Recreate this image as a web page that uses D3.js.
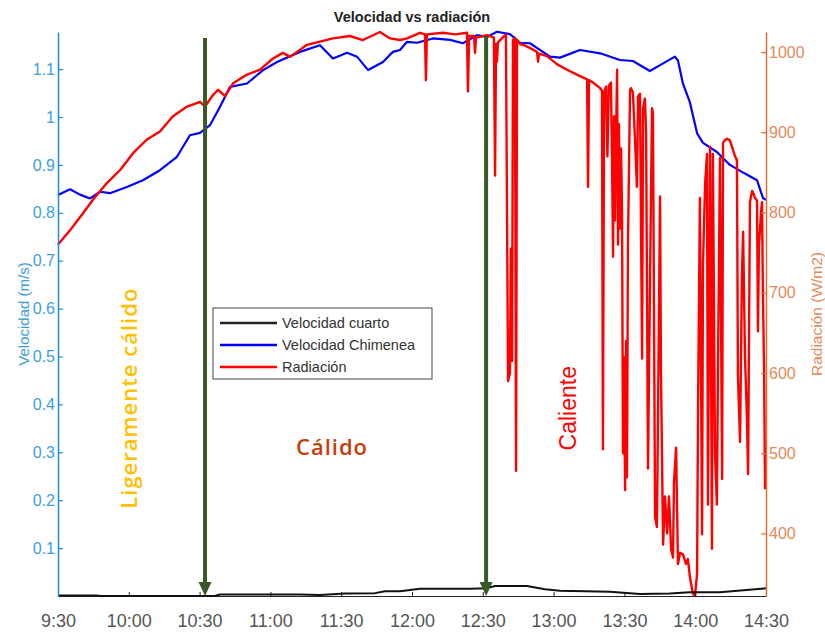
<!DOCTYPE html>
<html>
<head>
<meta charset="utf-8">
<script src="https://cdn.jsdelivr.net/npm/d3@7/dist/d3.min.js"></script>
<style>
  html, body { margin: 0; padding: 0; background: #fff; }
  svg { display: block; }
</style>
</head>
<body>
<svg id="chart" width="825" height="633"></svg>
<script>
// ---------- DATA (time = minutes after 9:30) ----------
const xTickValues = [0, 30, 60, 90, 120, 150, 180, 210, 240, 270, 300];
const xTickLabels = ["9:30", "10:00", "10:30", "11:00", "11:30", "12:00", "12:30", "13:00", "13:30", "14:00", "14:30"];
const leftTickValues = [0.1, 0.2, 0.3, 0.4, 0.5, 0.6, 0.7, 0.8, 0.9, 1, 1.1];
const rightTickValues = [400, 500, 600, 700, 800, 900, 1000];

const seriesNames = ["Velocidad cuarto", "Velocidad Chimenea", "Radiación"];

// Velocidad cuarto (m/s)
const cuartoT = [0, 16.5, 17.8, 66.5, 68.6, 102.5, 111.0, 121.6, 134.3, 138.6, 144.9, 153.4, 174.6, 181.4, 185.2, 198.7, 206.4, 212.7, 233.9, 246.6, 259.3, 267.8, 280.5, 300];
const cuartoV = [0.001, 0.001, 0, 0, 0.003, 0.003, 0.002, 0.005, 0.006, 0.010, 0.010, 0.015, 0.015, 0.016, 0.021, 0.021, 0.014, 0.011, 0.009, 0.004, 0.005, 0.008, 0.008, 0.016];

// Velocidad Chimenea (m/s)
const chimT = [0, 5.1, 9.3, 13.6, 17.8, 22.0, 29.2, 36.0, 43.2, 50.4, 55.9, 60.2, 64.4, 68.6, 72.9, 80.1, 86.9, 92.8, 102.5, 111.0, 116.5, 122.5, 126.7, 131.4, 137.7, 141.9, 144.9, 147.9, 152.1, 158.9, 166.1, 171.6, 177.5, 181.8, 186.0, 191.5, 195.8, 200.0, 204.2, 208.5, 212.7, 221.2, 229.7, 238.1, 243.6, 250.8, 256.4, 261.4, 262.7, 264.8, 267.8, 270.8, 273.3, 279.2, 284.7, 290.3, 296.2, 298.7, 300];
const chimV = [0.837, 0.849, 0.838, 0.830, 0.844, 0.841, 0.854, 0.868, 0.889, 0.917, 0.962, 0.967, 0.983, 1.021, 1.063, 1.070, 1.098, 1.115, 1.136, 1.150, 1.122, 1.134, 1.126, 1.098, 1.115, 1.136, 1.140, 1.157, 1.155, 1.164, 1.161, 1.154, 1.171, 1.167, 1.178, 1.173, 1.155, 1.154, 1.140, 1.126, 1.124, 1.140, 1.133, 1.119, 1.117, 1.096, 1.112, 1.126, 1.118, 1.070, 1.030, 0.966, 0.946, 0.927, 0.900, 0.884, 0.868, 0.831, 0.827];

// Radiación (W/m2)
const radT = [0, 5.1, 10.6, 14.8, 20.8, 26.3, 31.8, 37.7, 43.2, 48.7, 54.7, 60.2, 62.3, 65.3, 67.8, 70.8, 74.2, 80.1, 85.6, 91.1, 95.3, 98.3, 105.5, 111.0, 116.5, 123.7, 129.2, 136.4, 140.7, 144.9, 147.9, 153.4, 155.5, 155.9, 156.3, 163.1, 168.2, 173.3, 173.7, 174.2, 176.3, 176.7, 177.1, 181.8, 184.7, 185.2, 185.6, 186.0, 186.4, 189.8, 190.7, 191.5, 191.9, 192.4, 192.8, 193.6, 194.1, 194.5, 195.8, 197.9, 201.3, 203.0, 203.4, 203.8, 207.2, 211.4, 215.7, 221.2, 224.2, 224.6, 225.0, 226.7,
  229.7, 230.5, 230.9, 231.4, 232.2, 232.8, 233.4, 234.3, 234.7, 235.2, 235.6, 236.0, 236.5, 236.9, 237.3, 237.7, 238.1, 238.6, 239.0, 239.4, 239.8, 240.3, 240.7, 241.1, 241.5,
  242.4, 242.8, 243.6, 244.5, 245.3, 245.8, 246.6, 247.5, 247.9, 248.7, 249.2, 250.0, 250.8, 251.7, 252.1, 253.0, 253.8, 255.1, 255.5, 256.4, 257.2, 258.1, 258.9, 259.8, 260.6, 261.0, 261.9, 262.7, 263.6, 264.8, 266.1, 266.9, 267.8, 269.0, 269.9, 270.8, 271.2, 272.0, 272.9, 273.3, 274.2, 275.0, 275.4, 276.3, 277.1, 277.5, 278.4, 279.2, 279.7, 280.5, 281.4, 281.8, 282.6, 283.5, 284.7, 286.0, 286.9, 287.7, 288.1, 289.0, 289.8, 290.3, 291.1, 291.9, 292.4, 293.2, 294.1, 294.9, 295.3, 296.2, 296.6, 297.0, 297.9, 298.3, 298.7, 299.2, 299.6];
const radV = [760, 778, 799, 816, 837, 853, 874, 891, 901, 920, 932, 938, 932, 945, 953, 945, 961, 972, 978, 992, 999, 994, 1009, 1013, 1017, 1020, 1015, 1025, 1017, 1015, 1017, 1024, 1022, 965, 1022, 1024, 1022, 1024, 951, 1020, 1020, 999, 1018, 1021, 1018, 846, 1010, 988, 1012, 1022, 590, 600, 755, 615, 1015, 1018, 478, 1015, 1010, 1008, 1003, 1000, 988, 998, 995, 985, 978, 970, 966, 832, 965, 962,
  955, 952, 505, 950, 957, 870, 958, 962, 880, 745, 920, 790, 900, 978, 760, 910, 780, 880, 800, 500, 620, 454, 640, 470, 760,
  953, 955, 950, 890, 832, 945, 948, 618, 930, 942, 900, 481, 700, 930, 924, 420, 408, 820, 600, 386, 446, 400, 446, 380, 370, 463, 507, 362, 376, 374, 362, 368, 345, 325, 322, 350, 555, 818, 399, 735, 836, 873, 436, 882, 381, 873, 500, 436, 620, 868, 468, 887, 890, 892, 890, 878, 870, 865, 597, 514, 721, 776, 620, 546, 474, 813, 827, 822, 818, 815, 652, 758, 800, 813, 700, 600, 455];

// Arrows (time, top in m/s) and zone annotations (time, m/s)
const arrowT = [62.3, 181.4];
const arrowTop = [1.165, 1.169];
const zoneLabels = ["Ligeramente cálido", "Cálido", "Caliente"];
const zoneT = [29.7, 116.1, 216.1];
const zoneV = [0.413, 0.313, 0.392];

// ---------- CHART ----------
const svg = d3.select("#chart");
const M = { left: 58, right: 766, top: 32, bottom: 596 };

const x = d3.scaleLinear().domain([0, 300]).range([M.left, M.right]);
const yL = d3.scaleLinear().domain([0, 1.1775]).range([M.bottom, M.top]);
const yR = d3.scaleLinear().domain([322, 1025]).range([M.bottom, M.top]);

const leftColor = "#1f8dd6", leftText = "#3d9edc";
const rightColor = "#dd6b32", rightText = "#e5895b";
const axisFont = "'Liberation Sans', Arial, sans-serif";

// Title
svg.append("text").attr("x", 412).attr("y", 22).attr("text-anchor", "middle")
  .attr("font-family", axisFont).attr("font-weight", "bold").attr("font-size", 14.5)
  .attr("fill", "#222").text("Velocidad vs radiación");

// Lines
const lineL = d3.line().x(d => x(d[0])).y(d => yL(d[1]));
const lineR = d3.line().x(d => x(d[0])).y(d => yR(d[1]));

svg.append("path").datum(chimT.map((t, i) => [t, chimV[i]]))
  .attr("d", lineL).attr("fill", "none").attr("stroke", "#0000ff").attr("stroke-width", 2.2).attr("stroke-linejoin", "round");

svg.append("path").datum(radT.map((t, i) => [t, radV[i]]))
  .attr("d", lineR).attr("fill", "none").attr("stroke", "#ff0000").attr("stroke-width", 2.4).attr("stroke-linejoin", "round");

// Bottom axis
const gx = svg.append("g").attr("transform", `translate(0,${M.bottom})`)
  .call(d3.axisBottom(x).tickValues(xTickValues).tickFormat((d, i) => xTickLabels[i])
    .tickSizeInner(-4).tickSizeOuter(0).tickPadding(18));
gx.select(".domain").attr("stroke", "#262626").attr("stroke-width", 1.2);
gx.selectAll(".tick line").attr("stroke", "#262626");
gx.selectAll("text").attr("font-family", axisFont).attr("font-size", 18).attr("fill", "#555").attr("dy", "0.71em").attr("y", 18);

// Velocidad cuarto line (on top of axis)
svg.append("path").datum(cuartoT.map((t, i) => [t, cuartoV[i]]))
  .attr("d", lineL).attr("fill", "none").attr("stroke", "#111").attr("stroke-width", 2).attr("stroke-linejoin", "round");

// Left axis
const gl = svg.append("g").attr("transform", `translate(${M.left},0)`)
  .call(d3.axisLeft(yL).tickValues(leftTickValues).tickFormat(d3.format("~g"))
    .tickSizeInner(-5).tickSizeOuter(0).tickPadding(3));
gl.select(".domain").attr("stroke", leftColor).attr("stroke-width", 1.5);
gl.selectAll(".tick line").attr("stroke", leftColor).attr("stroke-width", 1.2);
gl.selectAll("text").attr("font-family", axisFont).attr("font-size", 16).attr("fill", leftText);

// Right axis
const gr = svg.append("g").attr("transform", `translate(${M.right},0)`)
  .call(d3.axisRight(yR).tickValues(rightTickValues).tickFormat(d3.format("d"))
    .tickSizeInner(-5).tickSizeOuter(0).tickPadding(3));
gr.select(".domain").attr("stroke", rightColor).attr("stroke-width", 1.5);
gr.selectAll(".tick line").attr("stroke", rightColor).attr("stroke-width", 1.2);
gr.selectAll("text").attr("font-family", axisFont).attr("font-size", 16).attr("fill", rightText);

// Axis labels
svg.append("text").attr("transform", `translate(23,${(M.top + M.bottom) / 2}) rotate(-90)`)
  .attr("text-anchor", "middle").attr("dominant-baseline", "central")
  .attr("font-family", axisFont).attr("font-size", 15).attr("fill", leftText).text("Velocidad (m/s)");
svg.append("text").attr("transform", `translate(816,${(M.top + M.bottom) / 2}) rotate(-90)`)
  .attr("text-anchor", "middle").attr("dominant-baseline", "central")
  .attr("font-family", axisFont).attr("font-size", 15.5).attr("fill", rightText).text("Radiación (W/m2)");

// Arrows
const arrowColor = "#385a27";
arrowT.forEach((t, i) => {
  const ax = x(t), top = yL(arrowTop[i]), tip = yL(0);
  svg.append("line").attr("x1", ax).attr("x2", ax).attr("y1", top).attr("y2", tip - 12)
    .attr("stroke", arrowColor).attr("stroke-width", 4);
  svg.append("path").attr("d", `M${ax - 6.5},${tip - 14} L${ax + 6.5},${tip - 14} L${ax},${tip} Z`)
    .attr("fill", arrowColor);
});

// Zone annotations
const annFont = "'Open Sans', 'Noto Sans', sans-serif";
svg.append("text").attr("transform", `translate(${x(zoneT[0])},${yL(zoneV[0])}) rotate(-90)`)
  .attr("text-anchor", "middle").attr("dominant-baseline", "central")
  .attr("font-family", annFont).attr("font-weight", 600).attr("font-size", 22).attr("letter-spacing", 1)
  .attr("fill", "#ffc000").text(zoneLabels[0]);
svg.append("text").attr("x", x(zoneT[1])).attr("y", yL(zoneV[1]))
  .attr("text-anchor", "middle").attr("dominant-baseline", "central")
  .attr("font-family", annFont).attr("font-weight", 600).attr("font-size", 22).attr("letter-spacing", 1)
  .attr("fill", "#c53d0c").text(zoneLabels[1]);
svg.append("text").attr("transform", `translate(${x(zoneT[2])},${yL(zoneV[2])}) rotate(-90)`)
  .attr("text-anchor", "middle").attr("dominant-baseline", "central")
  .attr("font-family", axisFont).attr("font-size", 23).attr("fill", "#ff0000").text(zoneLabels[2]);

// Legend
const legColors = ["#222", "#0000ff", "#ff0000"];
const lg = svg.append("g").attr("transform", "translate(213,308)");
lg.append("rect").attr("width", 219).attr("height", 71).attr("fill", "#fff").attr("stroke", "#444").attr("stroke-width", 1);
seriesNames.forEach((name, i) => {
  const yy = 15 + i * 22;
  lg.append("line").attr("x1", 7).attr("x2", 64).attr("y1", yy).attr("y2", yy)
    .attr("stroke", legColors[i]).attr("stroke-width", 2.5);
  lg.append("text").attr("x", 69).attr("y", yy).attr("dominant-baseline", "central")
    .attr("font-family", axisFont).attr("font-size", 14.5).attr("fill", "#333").text(name);
});
</script>
</body>
</html>
